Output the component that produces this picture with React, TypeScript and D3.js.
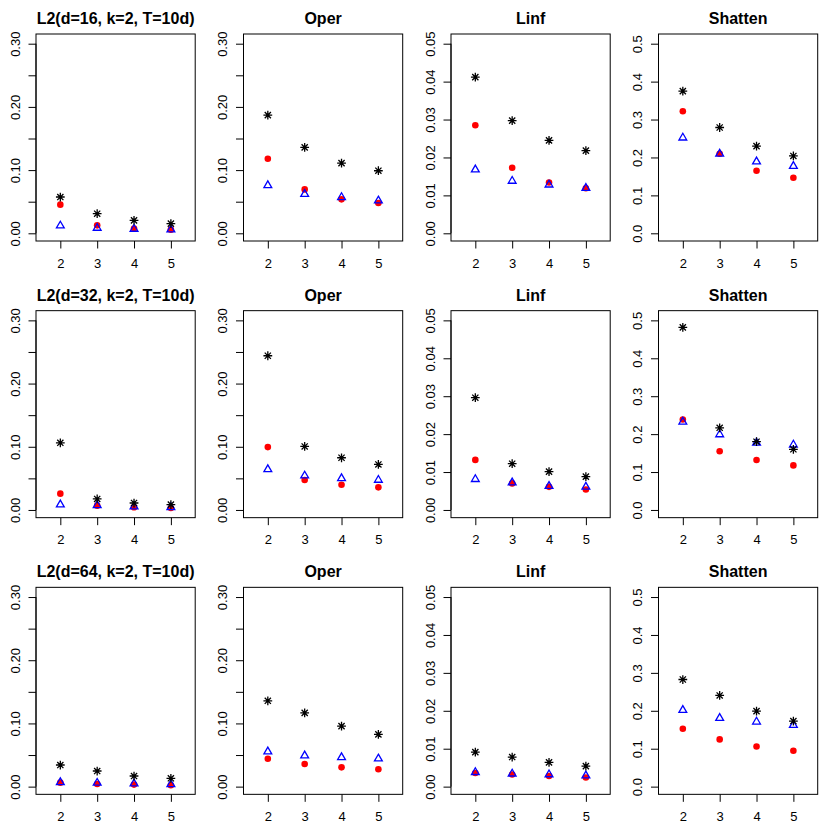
import React, { useEffect, useRef } from "react";
import * as d3 from "d3";

// x values (rank) shared by every panel
const ranks = [2, 3, 4, 5];

const rowTitles = ["L2(d=16, k=2, T=10d)", "L2(d=32, k=2, T=10d)", "L2(d=64, k=2, T=10d)"];
const colTitles = ["L2", "Oper", "Linf", "Shatten"];

// y axis per column
const yMaxes = [0.3, 0.3, 0.05, 0.5];
const yTickSteps = [0.05, 0.05, 0.01, 0.1];
const yLabelSteps = [0.1, 0.1, 0.01, 0.1];
const yFormats = [".2f", ".2f", ".2f", ".1f"];

// each array: one row of panels, [L2, Oper, Linf, Shatten] x ranks
const starD16 = [
  [0.0574, 0.031, 0.0205, 0.0153],
  [0.187, 0.136, 0.111, 0.099],
  [0.0412, 0.0297, 0.0245, 0.0218],
  [0.375, 0.279, 0.230, 0.204],
];
const dotD16 = [
  [0.0453, 0.0126, 0.0074, 0.0058],
  [0.118, 0.0695, 0.0537, 0.048],
  [0.0285, 0.0173, 0.0134, 0.0119],
  [0.322, 0.2096, 0.165, 0.1465],
];
const triD16 = [
  [0.012, 0.0084, 0.0068, 0.0058],
  [0.0758, 0.062, 0.057, 0.0516],
  [0.0168, 0.0138, 0.0128, 0.0119],
  [0.252, 0.2096, 0.189, 0.177],
];

const starD32 = [
  [0.1063, 0.0174, 0.011, 0.0084],
  [0.244, 0.1005, 0.0826, 0.072],
  [0.0296, 0.0122, 0.0101, 0.0088],
  [0.4816, 0.2167, 0.18, 0.16],
];
const dotD32 = [
  [0.0258, 0.0068, 0.0042, 0.0032],
  [0.0995, 0.0474, 0.04, 0.0358],
  [0.0132, 0.007, 0.0061, 0.0054],
  [0.2386, 0.155, 0.1316, 0.1175],
];
const triD32 = [
  [0.0084, 0.0074, 0.0053, 0.0042],
  [0.0642, 0.0542, 0.05, 0.0474],
  [0.0081, 0.0072, 0.0063, 0.0061],
  [0.2325, 0.199, 0.177, 0.172],
];

const starD64 = [
  [0.0342, 0.0247, 0.0168, 0.0132],
  [0.1358, 0.1168, 0.0958, 0.0826],
  [0.0091, 0.0078, 0.0064, 0.0054],
  [0.2825, 0.2404, 0.199, 0.173],
];
const dotD64 = [
  [0.0063, 0.0042, 0.0032, 0.0021],
  [0.0442, 0.0358, 0.0305, 0.0274],
  [0.0036, 0.0032, 0.0028, 0.0024],
  [0.1526, 0.1246, 0.106, 0.0947],
];
const triD64 = [
  [0.0068, 0.0058, 0.0047, 0.0037],
  [0.0553, 0.049, 0.0463, 0.0442],
  [0.0038, 0.0034, 0.0032, 0.0029],
  [0.2018, 0.1807, 0.171, 0.1623],
];

const stars = [starD16, starD32, starD64];
const dots = [dotD16, dotD32, dotD64];
const tris = [triD16, triD32, triD64];

const W = 830;
const H = 830;
const FONT = "'Liberation Sans', Arial, Helvetica, sans-serif";

export default function App() {
  const ref = useRef<SVGSVGElement>(null);

  useEffect(() => {
    const svg = d3.select(ref.current);
    svg.selectAll("*").remove();
    svg.append("rect").attr("width", W).attr("height", H).attr("fill", "#fff");

    const cellW = W / 4;
    const cellH = H / 3;

    // asterisk (R pch 8)
    const d = 3.1;
    const p = d * Math.SQRT2;
    const starPath = `M${-d},${-d}L${d},${d}M${-d},${d}L${d},${-d}M${-p},0H${p}M0,${-p}V${p}`;
    // open triangle (R pch 2)
    const tx = 2.9 * 1.347, tTop = 2.9 * 1.555, tBot = 2.9 * 0.778;
    const triPath = `M0,${-tTop}L${tx},${tBot}L${-tx},${tBot}Z`;

    for (let r = 0; r < 3; r++) {
      for (let c = 0; c < 4; c++) {
        const cx = c * cellW;
        const cy = r * cellH;
        const left = cx + 36;
        const right = cx + 195.2;
        const top = cy + 34;
        const bottom = cy + 241;

        const x = d3.scaleLinear().domain([1.34, 5.66]).range([left, right]);
        const y = d3.scaleLinear().domain([0, yMaxes[c]]).range([bottom - 7.7, top + 9.7]);

        const g = svg.append("g");

        // title
        g.append("text")
          .text(c === 0 ? rowTitles[r] : colTitles[c])
          .attr("x", (left + right) / 2)
          .attr("y", cy + 24)
          .attr("text-anchor", "middle")
          .attr("font-family", FONT)
          .attr("font-weight", "bold")
          .attr("font-size", 16);

        // x axis
        const xAxis = d3.axisBottom(x).tickValues(ranks).tickSize(7.5).tickPadding(10).tickFormat(d3.format("d"));
        g.append("g")
          .attr("transform", `translate(0,${bottom})`)
          .call(xAxis)
          .call(s => s.select(".domain").remove())
          .call(s => s.selectAll("text").attr("font-size", 13).attr("font-family", FONT).attr("fill", "#000"));

        // y axis
        const step = yTickSteps[c];
        const yTicks = d3.range(0, yMaxes[c] + step / 2, step);
        const lab = yLabelSteps[c];
        const fmt = d3.format(yFormats[c]);
        const yAxis = d3.axisLeft(y).tickValues(yTicks).tickSize(7.5).tickPadding(0)
          .tickFormat(v => {
            const k = (v as number) / lab;
            return Math.abs(k - Math.round(k)) < 1e-6 ? fmt(v as number) : "";
          });
        g.append("g")
          .attr("transform", `translate(${left},0)`)
          .call(yAxis)
          .call(s => s.select(".domain").attr("d", `M0,${y(0)}V${y(yMaxes[c])}`))
          .call(s => s.selectAll("text")
            .attr("font-size", 13)
            .attr("font-family", FONT)
            .attr("fill", "#000")
            .attr("text-anchor", "middle")
            .attr("dy", 0)
            .attr("x", 0)
            .attr("transform", `translate(${19.8 - 36},0) rotate(-90)`));

        // box
        g.append("rect")
          .attr("x", left)
          .attr("y", top)
          .attr("width", right - left)
          .attr("height", bottom - top)
          .attr("fill", "none")
          .attr("stroke", "#000")
          .attr("stroke-width", 1);

        const pts = ranks.map((k, i) => ({ k, i }));

        g.append("g")
          .selectAll("circle")
          .data(pts)
          .enter()
          .append("circle")
          .attr("cx", dd => x(dd.k))
          .attr("cy", dd => y(dots[r][c][dd.i]))
          .attr("r", 3.3)
          .attr("fill", "#ff0000");

        g.append("g")
          .selectAll("path")
          .data(pts)
          .enter()
          .append("path")
          .attr("d", triPath)
          .attr("transform", dd => `translate(${x(dd.k)},${y(tris[r][c][dd.i])})`)
          .attr("fill", "none")
          .attr("stroke", "#0000ff")
          .attr("stroke-width", 1.3);

        g.append("g")
          .selectAll("path")
          .data(pts)
          .enter()
          .append("path")
          .attr("d", starPath)
          .attr("transform", dd => `translate(${x(dd.k)},${y(stars[r][c][dd.i])})`)
          .attr("fill", "none")
          .attr("stroke", "#000")
          .attr("stroke-width", 1.3);
      }
    }
  }, []);

  return (
    <div style={{ position: "absolute", left: 0, top: 0 }}>
      <svg ref={ref} width={W} height={H} viewBox={`0 0 ${W} ${H}`} style={{ display: "block" }} />
    </div>
  );
}
